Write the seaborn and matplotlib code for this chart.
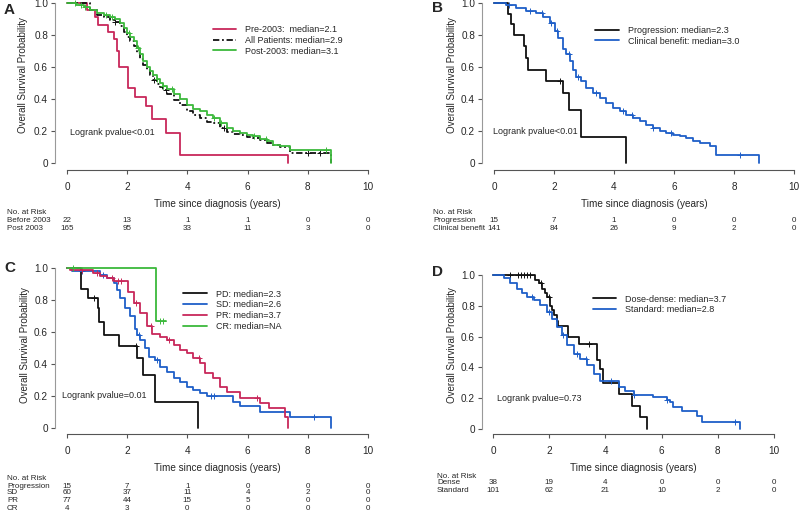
import numpy as np
import pandas as pd
import seaborn as sns
import matplotlib
matplotlib.use("Agg")
import matplotlib.pyplot as plt
from matplotlib.transforms import blended_transform_factory

# ---- data (survival steps, censor times, risk tables) ----
risk_times = [0, 2, 4, 6, 8, 10]

# Panel A
a_pre_t = [0, 0.66, 0.92, 1.03, 1.35, 1.55, 1.66, 1.74, 2.04, 2.27, 2.62, 2.82, 3.28, 3.76, 7.35]
a_pre_s = [1.0, 0.955, 0.91, 0.864, 0.818, 0.773, 0.70, 0.60, 0.47, 0.41, 0.355, 0.277, 0.19, 0.048, 0.0]
a_all_t = [0, 0.77, 0.99, 1.22, 1.44, 1.6, 1.77, 1.9, 1.99, 2.1, 2.21, 2.32, 2.43, 2.54, 2.65, 2.76, 2.87,
           2.98, 3.09, 3.2, 3.31, 3.54, 3.76, 3.98, 4.2, 4.42, 4.64, 4.86, 5.08, 5.3, 5.52, 5.75, 5.97,
           6.19, 6.41, 6.63, 6.85, 7.07, 7.4, 8.78]
a_all_s = [1.0, 0.955, 0.925, 0.91, 0.895, 0.88, 0.855, 0.82, 0.79, 0.76, 0.73, 0.69, 0.65, 0.61, 0.58, 0.55,
           0.52, 0.495, 0.475, 0.455, 0.43, 0.395, 0.36, 0.325, 0.30, 0.28, 0.255, 0.25, 0.22, 0.195, 0.18,
           0.175, 0.16, 0.155, 0.145, 0.125, 0.11, 0.10, 0.065, 0.0]
a_post_t = [0, 0.3, 0.55, 0.77, 0.99, 1.22, 1.44, 1.6, 1.77, 1.9, 1.99, 2.1, 2.21, 2.32, 2.43, 2.54, 2.65,
            2.76, 2.87, 2.98, 3.09, 3.2, 3.31, 3.54, 3.76, 3.98, 4.2, 4.42, 4.64, 4.86, 5.08, 5.3, 5.52,
            5.75, 5.97, 6.19, 6.41, 6.63, 6.85, 7.07, 7.4, 8.78]
a_post_s = [1.0, 0.99, 0.975, 0.958, 0.935, 0.925, 0.915, 0.9, 0.875, 0.845, 0.81, 0.785, 0.76, 0.72, 0.68,
            0.64, 0.60, 0.575, 0.55, 0.525, 0.50, 0.48, 0.46, 0.43, 0.40, 0.365, 0.34, 0.325, 0.30, 0.28,
            0.25, 0.22, 0.20, 0.19, 0.175, 0.17, 0.15, 0.135, 0.115, 0.104, 0.08, 0.0]
a_post_cens = [0.25, 0.45, 0.6, 1.3, 1.5, 2.05, 2.35, 3.0, 3.2, 3.5, 4.9, 5.1, 6.2, 6.6, 8.6]
a_all_cens = [1.6, 2.9, 3.3, 5.2, 8.0, 8.4]
a_risk_before = [22, 13, 1, 1, 0, 0]
a_risk_post = [165, 95, 33, 11, 3, 0]

# Panel B
b_prog_t = [0, 0.47, 0.55, 0.67, 0.99, 1.06, 1.13, 1.74, 2.3, 2.49, 2.91, 4.39]
b_prog_s = [1.0, 0.933, 0.867, 0.80, 0.733, 0.655, 0.583, 0.51, 0.437, 0.33, 0.165, 0.0]
b_cb_t = [0, 0.41, 0.74, 1.08, 1.41, 1.63, 1.86, 2.02, 2.13, 2.3, 2.41, 2.52, 2.63, 2.74, 2.91, 3.08, 3.3,
          3.52, 3.74, 3.97, 4.19, 4.41, 4.63, 4.86, 5.08, 5.3, 5.52, 5.74, 5.97, 6.19, 6.41, 6.63, 6.86,
          7.19, 7.41, 8.83]
b_cb_s = [1.0, 0.99, 0.97, 0.95, 0.94, 0.91, 0.875, 0.823, 0.78, 0.71, 0.68, 0.635, 0.583, 0.54, 0.51,
          0.47, 0.44, 0.406, 0.375, 0.344, 0.323, 0.302, 0.28, 0.26, 0.24, 0.22, 0.198, 0.188, 0.177,
          0.167, 0.156, 0.135, 0.125, 0.104, 0.052, 0.0]
b_cb_cens = [0.5, 1.2, 1.6, 1.9, 2.1, 2.5, 2.8, 3.4, 4.3, 4.6, 5.3, 5.9, 8.2]
b_prog_cens = [2.2]
b_risk_prog = [15, 7, 1, 0, 0, 0]
b_risk_cb = [141, 84, 26, 9, 2, 0]

# Panel C
c_pd_t = [0, 0.48, 0.69, 1.03, 1.07, 1.22, 1.73, 2.32, 2.54, 2.93, 4.36]
c_pd_s = [1.0, 0.867, 0.81, 0.748, 0.665, 0.583, 0.515, 0.435, 0.331, 0.165, 0.0]
c_sd_t = [0, 0.17, 1.1, 1.33, 1.55, 1.66, 1.77, 1.93, 2.1, 2.27, 2.32, 2.43, 2.6, 2.71, 2.93, 3.09, 3.31,
          3.54, 3.76, 3.98, 4.2, 4.42, 4.64, 5.52, 5.75, 6.41, 7.4, 8.78]
c_sd_s = [1.0, 0.983, 0.958, 0.94, 0.905, 0.86, 0.81, 0.75, 0.70, 0.62, 0.58, 0.55, 0.50, 0.446, 0.425,
          0.384, 0.352, 0.31, 0.29, 0.258, 0.237, 0.217, 0.20, 0.165, 0.137, 0.098, 0.071, 0.0]
c_pr_t = [0, 0.11, 0.88, 1.1, 1.33, 1.55, 2.04, 2.21, 2.43, 2.65, 2.82, 3.09, 3.31, 3.54, 3.76, 3.98, 4.2,
          4.42, 4.59, 4.86, 5.08, 5.3, 5.75, 6.41, 6.72, 7.24, 7.35]
c_pr_s = [1.0, 0.987, 0.97, 0.95, 0.94, 0.92, 0.85, 0.78, 0.716, 0.64, 0.59, 0.57, 0.55, 0.52, 0.487,
          0.466, 0.435, 0.404, 0.342, 0.31, 0.258, 0.227, 0.185, 0.154, 0.123, 0.071, 0.0]
c_cr_t = [0, 2.95, 3.28]
c_cr_s = [1.0, 0.667, 0.667]
c_pd_cens = [0.9, 2.3]
c_sd_cens = [0.5, 1.2, 2.4, 3.0, 4.8, 4.9, 8.2]
c_pr_cens = [0.5, 1.0, 1.5, 1.7, 1.8, 2.3, 2.8, 3.4, 4.4, 6.3]
c_cr_cens = [0.2, 3.1, 3.2]
c_risk_prog = [15, 7, 1, 0, 0, 0]
c_risk_sd = [60, 37, 11, 4, 2, 0]
c_risk_pr = [77, 44, 15, 5, 0, 0]
c_risk_cr = [4, 3, 0, 0, 0, 0]

# Panel D
d_dense_t = [0, 1.5, 1.62, 1.74, 1.86, 1.92, 2.04, 2.1, 2.16, 2.27, 2.3, 2.66, 3.05, 3.7, 3.8, 3.93, 4.47,
             4.94, 5.24, 5.47]
d_dense_s = [1.0, 0.967, 0.945, 0.91, 0.88, 0.86, 0.80, 0.77, 0.74, 0.70, 0.67, 0.60, 0.55, 0.45, 0.39,
             0.30, 0.227, 0.152, 0.076, 0.0]
d_std_t = [0, 0.38, 0.62, 0.85, 1.03, 1.21, 1.45, 1.68, 1.92, 2.1, 2.27, 2.45, 2.63, 2.87, 3.1, 3.34, 3.58,
           3.8, 4.47, 4.7, 5.0, 5.71, 6.18, 6.3, 6.42, 6.72, 7.25, 7.43, 8.79]
d_std_s = [1.0, 0.98, 0.945, 0.912, 0.88, 0.858, 0.836, 0.804, 0.76, 0.717, 0.663, 0.609, 0.543, 0.489,
           0.457, 0.413, 0.359, 0.31, 0.27, 0.25, 0.22, 0.205, 0.19, 0.174, 0.141, 0.12, 0.087, 0.044, 0.0]
d_dense_cens = [0.6, 0.9, 1.0, 1.1, 1.2, 1.3, 1.7, 2.0, 3.4]
d_std_cens = [1.4, 2.0, 2.5, 3.0, 3.3, 4.2, 5.0, 6.2, 8.6]
d_risk_dense = [38, 19, 4, 0, 0, 0]
d_risk_std = [101, 62, 21, 10, 2, 0]

RED = "#c8285a"
GREEN = "#3cb93c"
BLUE = "#1f5fc8"
BLACK = "#111111"

sns.set_style("ticks")
plt.rcParams["font.family"] = ["Liberation Sans", "DejaVu Sans"]

W, H = 800, 512
fig = plt.figure(figsize=(8, 5.12), dpi=100)


def px_axes(left, right, top, bottom):
    return fig.add_axes([left / W, 1 - bottom / H, (right - left) / W, (bottom - top) / H])


def km(ax, t, s, color, label, cens=None, ls="-"):
    df = pd.DataFrame({"t": t, "s": s})
    sns.lineplot(data=df, x="t", y="s", ax=ax, color=color, label=label, drawstyle="steps-post",
                 estimator=None, sort=False, linewidth=1.3, linestyle=ls, clip_on=False)
    if cens:
        idx = np.searchsorted(t, cens, side="right") - 1
        ax.plot(cens, np.asarray(s)[idx], "+", color=color, markersize=4, markeredgewidth=0.7,
                clip_on=False)


def style(ax, letter, lx, ly, yoff, xoff, ylab_x, ylab_y):
    ax.set_xlim(0, 10)
    ax.set_ylim(0, 1)
    ax.set_xticks(risk_times)
    ax.set_yticks([0, 0.2, 0.4, 0.6, 0.8, 1.0])
    ax.set_yticklabels(["0", "0.2", "0.4", "0.6", "0.8", "1.0"])
    for sp in ["top", "right"]:
        ax.spines[sp].set_visible(False)
    ax.spines["left"].set_position(("outward", yoff))
    ax.spines["bottom"].set_position(("outward", xoff))
    ax.spines["left"].set_bounds(0, 1)
    ax.spines["bottom"].set_bounds(0, 10)
    ax.spines["left"].set_color("#999999")
    ax.spines["bottom"].set_color("#555555")
    ax.tick_params(axis="both", length=3, width=0.8, labelsize=7.2, pad=2, color="#555555")
    ax.tick_params(axis="x", pad=6)
    ax.set_xlabel("Time since diagnosis (years)", fontsize=7.2, labelpad=5)
    ax.set_ylabel("")
    fig.text(ylab_x / W, 1 - ylab_y / H, "Overall Survival Probability", rotation=90,
             ha="center", va="center", fontsize=7)
    fig.text(lx / W, 1 - ly / H, letter, fontsize=11, fontweight="bold", ha="left", va="center")


def risk(ax, x_label, y_header, rows):
    tr = blended_transform_factory(ax.transData, fig.transFigure)
    fig.text(x_label / W, 1 - y_header / H, "No. at Risk", fontsize=5.8, va="center", ha="left")
    for name, vals, y in rows:
        fig.text(x_label / W, 1 - y / H, name, fontsize=5.8, va="center", ha="left")
        for tt, v in zip(risk_times, vals):
            ax.text(tt, 1 - y / H, str(v), transform=tr, fontsize=5.8, ha="center", va="center")


def legend(ax, x, y):
    return ax.legend(loc="upper left", bbox_to_anchor=(x, y), frameon=False, fontsize=6.5,
                     handlelength=2.6, handletextpad=1.0, labelspacing=0.2, borderaxespad=0)


# ---- Panel A ----
axA = px_axes(67, 368, 3, 163)
km(axA, a_pre_t, a_pre_s, RED, "Pre-2003:  median=2.1")
km(axA, a_all_t, a_all_s, BLACK, "All Patients: median=2.9", a_all_cens, ls=(0, (3.5, 1.5, 1, 1.5)))
km(axA, a_post_t, a_post_s, GREEN, "Post-2003: median=3.1", a_post_cens)
style(axA, "A", 4, 10, 8.6, 5, 23, 75)
legend(axA, 0.473, 0.885)
axA.text(0.1, 0.19, "Logrank pvalue<0.01", fontsize=6.5, va="center")
risk(axA, 7, 212, [("Before 2003", a_risk_before, 221), ("Post 2003", a_risk_post, 229)])

# ---- Panel B ----
axB = px_axes(494, 794, 3, 163)
km(axB, b_prog_t, b_prog_s, BLACK, "Progression: median=2.3", b_prog_cens)
km(axB, b_cb_t, b_cb_s, BLUE, "Clinical benefit: median=3.0", b_cb_cens)
style(axB, "B", 432, 8, 8.6, 5, 452, 75)
legend(axB, 0.325, 0.88)
axB.text(-0.05, 0.2, "Logrank pvalue<0.01", fontsize=6.5, va="center")
risk(axB, 433, 212, [("Progression", b_risk_prog, 221), ("Clinical benefit", b_risk_cb, 229)])

# ---- Panel C ----
axC = px_axes(67, 368, 268, 428)
km(axC, c_pd_t, c_pd_s, BLACK, "PD: median=2.3", c_pd_cens)
km(axC, c_sd_t, c_sd_s, BLUE, "SD: median=2.6", c_sd_cens)
km(axC, c_pr_t, c_pr_s, RED, "PR: median=3.7", c_pr_cens)
km(axC, c_cr_t, c_cr_s, GREEN, "CR: median=NA", c_cr_cens)
style(axC, "C", 4, 268, 8.6, 4.3, 25, 345)
legend(axC, 0.374, 0.8875)
axC.text(-0.15, 0.2, "Logrank pvalue=0.01", fontsize=6.5, va="center")
risk(axC, 7, 478, [("Progression", c_risk_prog, 486), ("SD", c_risk_sd, 493),
                   ("PR", c_risk_pr, 501), ("CR", c_risk_cr, 508)])

# ---- Panel D ----
axD = px_axes(493, 774, 275, 429)
km(axD, d_dense_t, d_dense_s, BLACK, "Dose-dense: median=3.7", d_dense_cens)
km(axD, d_std_t, d_std_s, BLUE, "Standard: median=2.8", d_std_cens)
style(axD, "D", 432, 272, 7.9, 3.6, 452, 345)
legend(axD, 0.343, 0.896)
axD.text(0.15, 0.2, "Logrank pvalue=0.73", fontsize=6.5, va="center")
risk(axD, 437, 476, [("Dense", d_risk_dense, 483), ("Standard", d_risk_std, 491)])

fig.savefig("out.png", dpi=100)
